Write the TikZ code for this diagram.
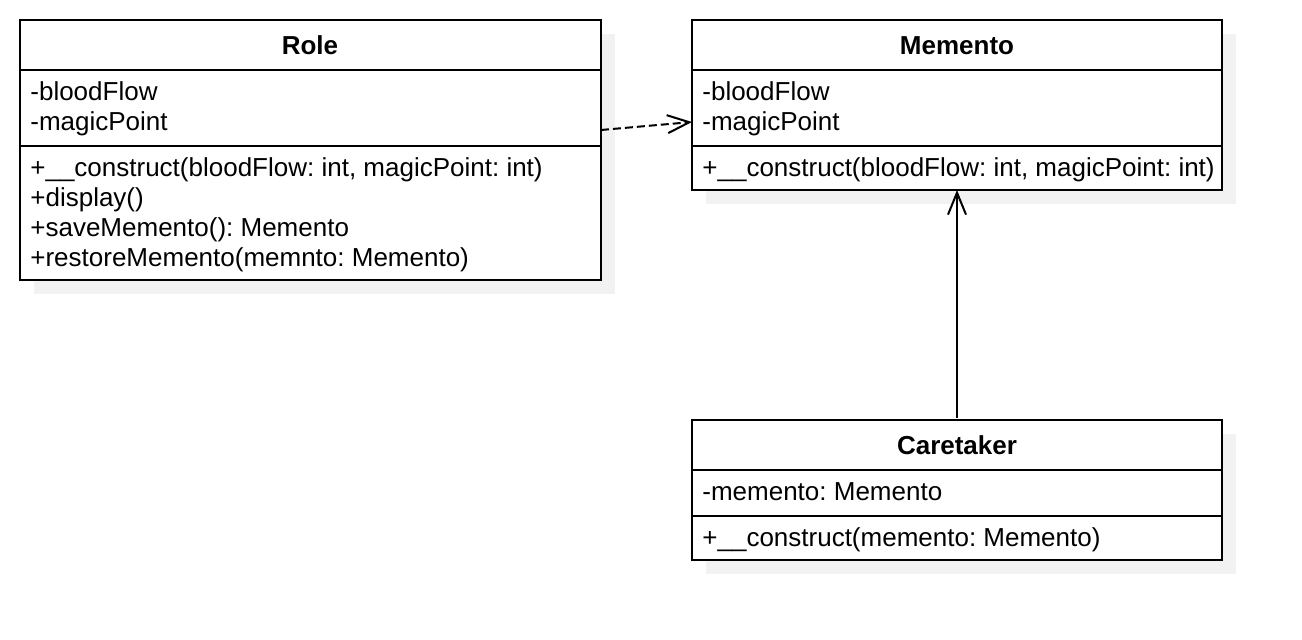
\documentclass[tikz,border=0pt]{standalone}
\usepackage{fontspec}
\setmainfont{Liberation Sans}
\usetikzlibrary{arrows.meta}

\tikzset{
  classbox/.style={draw, line width=1pt, fill=white, anchor=north west, inner sep=0pt, outer sep=0pt},
  boxshadow/.style={fill=black!5, draw=none},
  member/.style={anchor=west, inner sep=0pt, text height=11pt, text depth=1.3pt},
  classname/.style={font=\bfseries, inner sep=0pt, text height=11pt, text depth=1.3pt},
  divider/.style={line width=1pt},
  link/.style={line width=1pt, -{Straight Barb[length=11pt,width=9pt,line width=1pt]}}
}

\begin{document}
\frenchspacing
\begin{tikzpicture}[x=0.5pt,y=-0.5pt]
  \fontsize{13}{15}\selectfont
  \useasboundingbox (0,0) rectangle (1302,640);

  % shadows
  \fill[boxshadow] (34,34) rectangle (615,294);
  \fill[boxshadow] (706,34) rectangle (1236,204);
  \fill[boxshadow] (706,434) rectangle (1236,574);

  % Role
  \node[classbox, minimum width=290.5pt, minimum height=130pt] (role) at (20,20) {};
  \node[classname] (roletitle) at (310,45) {Role};
  \draw[divider] (20,70) -- (601,70);
  \draw[divider] (20,146) -- (601,146);
  \node[member] (roleattr1) at (30,91) {-bloodFlow};
  \node[member] (roleattr2) at (30,121) {-magicPoint};
  \node[member] (roleop1) at (30,167) {+\_\_construct(bloodFlow: int, magicPoint: int)};
  \node[member] (roleop2) at (30,197) {+display()};
  \node[member] (roleop3) at (30,227) {+saveMemento(): Memento};
  \node[member] (roleop4) at (30,257) {+restoreMemento(memnto: Memento)};

  % Memento
  \node[classbox, minimum width=265pt, minimum height=85pt] (memento) at (692,20) {};
  \node[classname] (mementotitle) at (957,45) {Memento};
  \draw[divider] (692,70) -- (1222,70);
  \draw[divider] (692,146) -- (1222,146);
  \node[member] (mementoattr1) at (702,91) {-bloodFlow};
  \node[member] (mementoattr2) at (702,121) {-magicPoint};
  \node[member] (mementoop1) at (702,167) {+\_\_construct(bloodFlow: int, magicPoint: int)};

  % Caretaker
  \node[classbox, minimum width=265pt, minimum height=70pt] (caretaker) at (692,420) {};
  \node[classname] (caretakertitle) at (957,445) {Caretaker};
  \draw[divider] (692,470) -- (1222,470);
  \draw[divider] (692,516) -- (1222,516);
  \node[member] (caretakerattr1) at (702,491) {-memento: Memento};
  \node[member] (caretakerop1) at (702,537) {+\_\_construct(memento: Memento)};

  % relations
  \coordinate (rolesrc) at ([yshift=10pt]role.east);
  \coordinate (mementodst) at ([yshift=-8.5pt]memento.west);
  \draw[link, dash pattern=on 4pt off 2pt] (rolesrc) -- (mementodst);
  \draw[link] ([yshift=1pt]caretaker.north) -- (memento.south);
\end{tikzpicture}
\end{document}
